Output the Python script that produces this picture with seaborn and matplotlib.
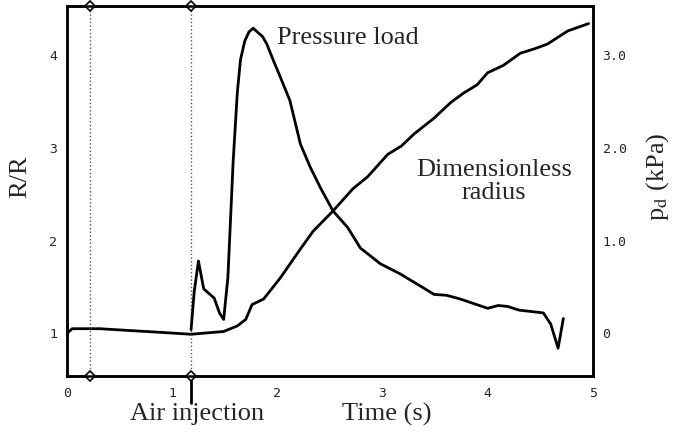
import numpy as np
import pandas as pd
import matplotlib
matplotlib.use("Agg")
import matplotlib.pyplot as plt
import seaborn as sns

# Dimensionless radius R/R (left axis)
radius_t = [0.0, 0.05, 0.31, 0.6, 0.9, 1.18, 1.49, 1.62, 1.70, 1.76, 1.87, 2.03, 2.22, 2.34,
            2.53, 2.72, 2.86, 3.05, 3.18, 3.30, 3.49, 3.65, 3.77, 3.90, 4.00, 4.15,
            4.31, 4.45, 4.57, 4.76, 4.96]
radius_r = [1.0, 1.05, 1.05, 1.03, 1.01, 0.99, 1.02, 1.08, 1.15, 1.31, 1.37, 1.60, 1.91, 2.10,
            2.32, 2.56, 2.69, 2.93, 3.02, 3.15, 3.32, 3.49, 3.59, 3.68, 3.81, 3.89,
            4.02, 4.07, 4.12, 4.26, 4.34]

# Pressure load p_d in kPa (right axis)
press_t = [1.18, 1.21, 1.25, 1.30, 1.35, 1.40, 1.45, 1.49, 1.53, 1.58, 1.62, 1.65,
           1.69, 1.73, 1.77, 1.81, 1.86, 1.90, 1.96, 2.03, 2.12, 2.22, 2.31, 2.41,
           2.53, 2.67, 2.79, 2.98, 3.17, 3.36, 3.49, 3.61, 3.74, 3.87, 4.00, 4.10,
           4.19, 4.30, 4.38, 4.53, 4.60, 4.67, 4.72]
press_p = [0.04, 0.45, 0.78, 0.48, 0.43, 0.38, 0.22, 0.15, 0.60, 1.85, 2.60, 2.95,
           3.15, 3.25, 3.29, 3.25, 3.20, 3.12, 2.95, 2.76, 2.51, 2.04, 1.80, 1.57,
           1.32, 1.14, 0.92, 0.75, 0.64, 0.51, 0.42, 0.41, 0.37, 0.32, 0.27, 0.30,
           0.29, 0.25, 0.24, 0.22, 0.10, -0.16, 0.16]

# marker lines (s)
marker_t = [0.22, 1.18]
air_injection_t = 1.18

xticks = [0, 1, 2, 3, 4, 5]
left_ticks = [1, 2, 3, 4]
right_ticks = [0, 1, 2, 3]
right_labels = ["0", "1.0", "2.0", "3.0"]

df_r = pd.DataFrame({"t": radius_t, "R": radius_r})
df_p = pd.DataFrame({"t": press_t, "p": press_p})

sns.set_theme(style="white")
plt.rcParams["font.family"] = ["Liberation Serif", "DejaVu Serif"]
plt.rcParams["mathtext.fontset"] = "stix"

fig = plt.figure(figsize=(6.82, 4.37), dpi=100)
ax = fig.add_axes([0.0982, 0.1396, 0.771, 0.8467])
ax2 = ax.twinx()

sns.lineplot(data=df_r, x="t", y="R", ax=ax, color="black", lw=2.0)
sns.lineplot(data=df_p, x="t", y="p", ax=ax2, color="black", lw=2.0)

ax.set_xlim(0, 5)
ax.set_ylim(0.54, 4.53)
ax2.set_ylim(-0.46, 3.53)

for t in marker_t:
    ax.plot([t, t], [0.54, 4.53], ls=":", color="#555555", lw=1)
    ax.plot([t, t], [0.54, 4.53], ls="none", marker="D", ms=5, mfc="white",
            mec="black", mew=1.2, clip_on=False, zorder=5)

tick_font = dict(family="DejaVu Sans Mono", size=9.5)
ax.set_xticks(xticks)
ax.set_xticklabels([str(v) for v in xticks], fontdict=tick_font)
ax.set_yticks(left_ticks)
ax.set_yticklabels([str(v) for v in left_ticks], fontdict=tick_font)
ax2.set_yticks(right_ticks)
ax2.set_yticklabels(right_labels, fontdict=tick_font)
ax.tick_params(axis="x", length=0, pad=8)
ax.tick_params(axis="y", length=0, pad=7)
ax2.tick_params(axis="y", length=0, pad=7)

ax.set_xlabel("")
ax.set_ylabel("")
ax2.set_ylabel("")
for a in (ax, ax2):
    for s in a.spines.values():
        s.set_color("black")
        s.set_linewidth(1.8)

fig.text(0.029, 0.595, "R/R", rotation=90, ha="center", va="center", fontsize=19)
fig.text(0.964, 0.595, r"p$_\mathrm{d}$ (kPa)", rotation=90, ha="center", va="center", fontsize=19)
fig.text(0.567, 0.052, "Time (s)", ha="center", va="center", fontsize=19)
fig.text(0.289, 0.052, "Air injection", ha="center", va="center", fontsize=19)

# short thick marker below the axis at injection time
ax.plot([air_injection_t, air_injection_t], [0.54, 0.25], color="black", lw=2,
        clip_on=False)

ax.text(2.0, 4.18, "Pressure load", ha="left", va="center", fontsize=19)
ax.text(4.06, 2.64, "Dimensionless\nradius", ha="center", va="center", fontsize=19,
        linespacing=1.05)

fig.savefig("out.png", dpi=100)
